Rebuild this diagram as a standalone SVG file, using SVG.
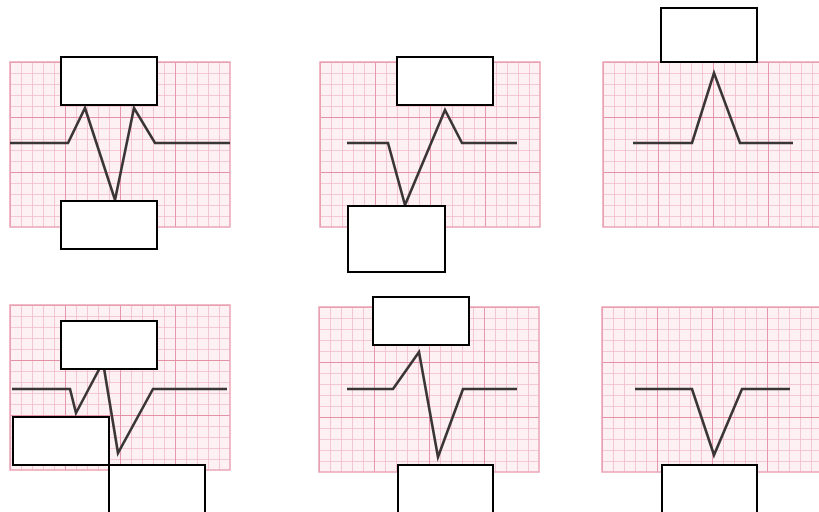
<svg xmlns="http://www.w3.org/2000/svg" width="819" height="512" viewBox="0 0 819 512">
  <defs>
    <pattern id="minor" width="11" height="11" patternUnits="userSpaceOnUse">
      <rect width="11" height="11" fill="#fdf1f4"/>
      <path d="M0 0H11M0 0V11" stroke="#f2bccb" stroke-width="1.6" fill="none"/>
    </pattern>
    <pattern id="major" width="55" height="55" patternUnits="userSpaceOnUse">
      <path d="M0 0H55M0 0V55" stroke="#e592a6" stroke-width="1.8" fill="none"/>
    </pattern>
    <g id="grid">
      <rect x="0" y="0" width="220" height="165" fill="url(#minor)"/>
      <rect x="0" y="0" width="220" height="165" fill="url(#major)"/>
      <rect x="0" y="0" width="220" height="165" fill="none" stroke="#eaa5b5" stroke-width="1.5"/>
    </g>
  </defs>
  <style>
    .wave { fill: none; stroke: #3a3536; stroke-width: 2.6; stroke-linejoin: miter; }
    .label { fill: #ffffff; stroke: #000000; stroke-width: 2; }
  </style>
  <rect width="819" height="512" fill="#ffffff"/>

  <g id="panel1">
    <use href="#grid" transform="translate(10,62)"/>
    <polyline class="wave" points="10,143 68,143 85,108 115,200 134,108 155,143 230,143"/>
  </g>
  <g id="panel2">
    <use href="#grid" transform="translate(320,62)"/>
    <polyline class="wave" points="347,143 388,143 405,205 445,110 462,143 517,143"/>
  </g>
  <g id="panel3">
    <use href="#grid" transform="translate(603,62)"/>
    <polyline class="wave" points="633,143 692,143 714,73 740,143 793,143"/>
  </g>
  <g id="panel4">
    <use href="#grid" transform="translate(10,305)"/>
    <polyline class="wave" points="12,389 70,389 76,413 103,362 118,453 153,389 227,389"/>
  </g>
  <g id="panel5">
    <use href="#grid" transform="translate(319,307)"/>
    <polyline class="wave" points="347,389 393,389 419,352 438,457 463,389 517,389"/>
  </g>
  <g id="panel6">
    <use href="#grid" transform="translate(602,307)"/>
    <polyline class="wave" points="635,389 692,389 714,455 742,389 790,389"/>
  </g>

  <g id="connectors"></g>

  <g id="labels">
    <rect id="box1" class="label" x="61" y="57" width="96" height="48"/>
    <rect id="box2" class="label" x="61" y="201" width="96" height="48"/>
    <rect id="box3" class="label" x="397" y="57" width="96" height="48"/>
    <rect id="box4" class="label" x="348" y="206" width="97" height="66"/>
    <rect id="box5" class="label" x="661" y="8" width="96" height="54"/>
    <rect id="box6" class="label" x="61" y="321" width="96" height="48"/>
    <rect id="box7" class="label" x="13" y="417" width="96" height="48"/>
    <rect id="box8" class="label" x="109" y="465" width="96" height="50"/>
    <rect id="box9" class="label" x="373" y="297" width="96" height="48"/>
    <rect id="box10" class="label" x="398" y="465" width="95" height="50"/>
    <rect id="box11" class="label" x="662" y="465" width="95" height="50"/>
  </g>
</svg>
